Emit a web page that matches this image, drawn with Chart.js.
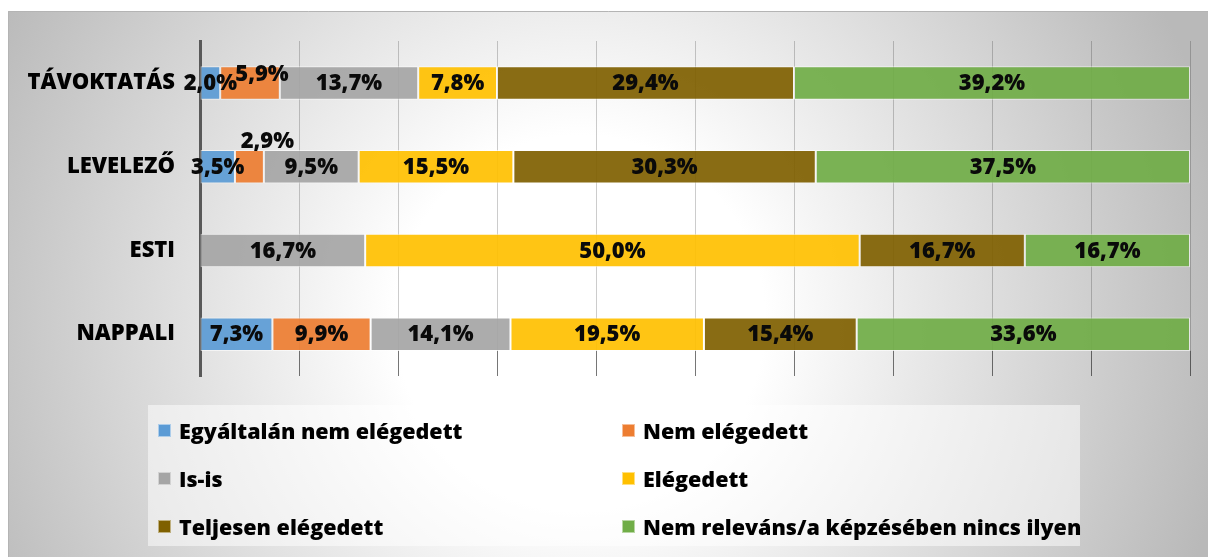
<!DOCTYPE html>
<html lang="hu">
<head>
<meta charset="utf-8">
<script src="https://cdn.jsdelivr.net/npm/chart.js@4/dist/chart.umd.min.js"></script>
<style>
  body { margin: 0; background: #fff; }
  #wrap { position: relative; width: 1208px; height: 557px; }
  #legend {
    position: absolute; left: 148px; top: 405px; width: 932px; height: 141px;
    background: rgba(255,255,255,0.5);
    display: grid; grid-template-columns: 464px 468px; grid-auto-rows: 48px;
    padding-top: 1px; box-sizing: border-box;
    font: 800 21.5px "Open Sans", sans-serif; color: #000;
  }
  #legend div { display: flex; align-items: center; padding-left: 10px; white-space: nowrap; }
  #legend span.box { width: 13px; height: 13px; margin-right: 8px; box-sizing: border-box; border: 1px solid rgba(255,255,255,0.5); flex: none; }
</style>
</head>
<body>
<div id="wrap">
  <canvas id="myChart" width="1208" height="557"></canvas>
  <div id="legend"></div>
</div>
<script>
var categories = ['TÁVOKTATÁS', 'LEVELEZŐ', 'ESTI', 'NAPPALI'];
var seriesNames = ['Egyáltalán nem elégedett', 'Nem elégedett', 'Is-is', 'Elégedett', 'Teljesen elégedett', 'Nem releváns/a képzésében nincs ilyen'];

// percent per category, in the order of categories
var egyaltalanNem = [2.0, 3.5, 0, 7.3];
var nemElegedett  = [5.9, 2.9, 0, 9.9];
var isIs          = [13.7, 9.5, 16.7, 14.1];
var elegedett     = [7.8, 15.5, 50.0, 19.5];
var teljesen      = [29.4, 30.3, 16.7, 15.4];
var nemRelevans   = [39.2, 37.5, 16.7, 33.6];

var seriesValues = [egyaltalanNem, nemElegedett, isIs, elegedett, teljesen, nemRelevans];
var colors = ['91,155,213', '237,125,49', '165,165,165', '255,192,0', '127,96,0', '112,173,71'];

// small labels that sit off their segment
var labelShift = {
    'TÁVOKTATÁS|1': [12, -9],
    'LEVELEZŐ|1': [18, -26]
};

// each row is stretched to 100%
var rowTotals = categories.map(function (c, i) {
    return seriesValues.reduce(function (s, arr) { return s + arr[i]; }, 0);
});

var datasets = seriesValues.map(function (vals, k) {
    return {
        label: seriesNames[k],
        data: vals.map(function (v, i) { return v / rowTotals[i] * 100; }),
        raw: vals,
        backgroundColor: 'rgba(' + colors[k] + ',0.92)',
        borderColor: 'rgba(255,255,255,0.6)',
        borderWidth: 1,
        borderSkipped: false,
        barPercentage: 0.4,
        categoryPercentage: 1
    };
});

function fmt(v) {
    return v.toFixed(1).replace('.', ',') + '%';
}

var background = {
    id: 'background',
    beforeDraw: function (chart) {
        var c = chart.ctx;
        c.save();
        c.fillStyle = '#fff';
        c.fillRect(0, 0, chart.width, chart.height);
        var g = c.createRadialGradient(580, 320, 0, 580, 320, 660);
        g.addColorStop(0, '#ffffff');
        g.addColorStop(0.28, '#ffffff');
        g.addColorStop(1, '#b9b9b9');
        c.fillStyle = g;
        c.fillRect(8, 11, chart.width - 8, chart.height - 11);
        c.strokeStyle = '#b4b4b4';
        c.lineWidth = 1;
        c.beginPath();
        c.moveTo(8.5, chart.height);
        c.lineTo(8.5, 11.5);
        c.lineTo(chart.width, 11.5);
        c.stroke();
        c.restore();
    }
};

// darker stubs of the gridlines under the last row
var gridStubs = {
    id: 'gridStubs',
    beforeDatasetsDraw: function (chart) {
        var c = chart.ctx, xs = chart.scales.x, area = chart.chartArea;
        var el = chart.getDatasetMeta(0).data[categories.length - 1];
        var top = el.y + el.height / 2;
        c.save();
        c.strokeStyle = 'rgba(0,0,0,0.42)';
        c.lineWidth = 1;
        xs.ticks.forEach(function (t, i) {
            if (i === 0) return;
            var x = Math.round(xs.getPixelForValue(t.value)) + 0.5;
            c.beginPath();
            c.moveTo(x, top);
            c.lineTo(x, area.bottom);
            c.stroke();
        });
        c.restore();
    }
};

var valueLabels = {
    id: 'valueLabels',
    afterDatasetsDraw: function (chart) {
        var c = chart.ctx;
        c.save();
        c.font = '800 22px "Open Sans", sans-serif';
        c.fillStyle = '#0a0a0a';
        c.textAlign = 'center';
        c.textBaseline = 'middle';
        chart.data.datasets.forEach(function (ds, k) {
            chart.getDatasetMeta(k).data.forEach(function (bar, i) {
                var v = ds.raw[i];
                if (!v) return;
                var shift = labelShift[categories[i] + '|' + k] || [0, 0];
                c.fillText(fmt(v), (bar.x + bar.base) / 2 + shift[0], bar.y + 1 + shift[1]);
            });
        });
        c.restore();
    }
};

var ctx = document.getElementById('myChart').getContext('2d');
var myChart = new Chart(ctx, {
    type: 'bar',
    data: { labels: categories, datasets: datasets },
    plugins: [background, gridStubs, valueLabels],
    options: {
        indexAxis: 'y',
        responsive: false,
        animation: false,
        layout: { padding: { left: 0, right: 18, top: 41, bottom: 181 } },
        plugins: { legend: { display: false }, tooltip: { enabled: false } },
        scales: {
            x: {
                stacked: true,
                min: 0,
                max: 100,
                ticks: { display: false, stepSize: 10 },
                grid: { color: 'rgba(0,0,0,0.2)', drawTicks: false, tickLength: 0 },
                border: { display: false },
                afterFit: function (scale) { scale.height = 0; }
            },
            y: {
                stacked: true,
                ticks: {
                    padding: 25, color: '#000',
                    font: { family: '"Open Sans"', size: 22, weight: '800' }
                },
                grid: { display: false, drawTicks: false, tickLength: 0 },
                border: { display: true, color: '#595959', width: 3 },
                afterFit: function (scale) { scale.width = 200; }
            }
        }
    }
});

// legend in two columns
var legend = document.getElementById('legend');
myChart.data.datasets.forEach(function (ds, k) {
    var item = document.createElement('div');
    var box = document.createElement('span');
    box.className = 'box';
    box.style.background = 'rgb(' + colors[k] + ')';
    item.appendChild(box);
    item.appendChild(document.createTextNode(ds.label));
    legend.appendChild(item);
});
</script>
</body>
</html>
